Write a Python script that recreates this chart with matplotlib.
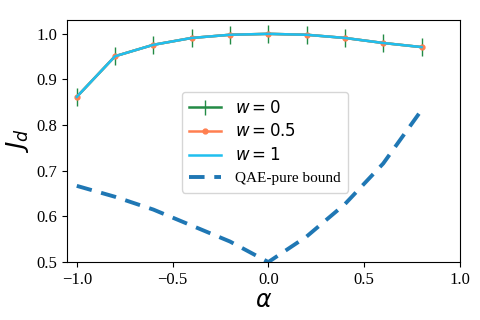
import matplotlib
matplotlib.use("Agg")
import matplotlib.pyplot as plt

plt.rcParams['font.family'] = ['Liberation Serif', 'DejaVu Serif']
plt.rcParams['mathtext.fontset'] = 'dejavusans'

alpha = [-1.0, -0.8, -0.6, -0.4, -0.2, 0.0, 0.2, 0.4, 0.6, 0.8]
jd_w0 = [0.862, 0.951, 0.976, 0.991, 0.998, 1.000, 0.998, 0.991, 0.980, 0.971]
jd_err = [0.020, 0.020, 0.020, 0.020, 0.020, 0.020, 0.020, 0.020, 0.020, 0.020]
jd_w05 = [0.862, 0.951, 0.976, 0.991, 0.998, 1.000, 0.998, 0.991, 0.980, 0.971]
jd_w1 = [0.862, 0.951, 0.976, 0.991, 0.998, 1.000, 0.998, 0.991, 0.980, 0.971]
bound = [0.667, 0.643, 0.615, 0.580, 0.545, 0.500, 0.556, 0.627, 0.716, 0.833]

fig = plt.figure(figsize=(4.8, 3.2), dpi=100)
ax = fig.add_axes([0.14, 0.181, 0.818, 0.756])

h0 = ax.errorbar(alpha, jd_w0, yerr=jd_err, color='#238b45', lw=1.8, elinewidth=1,
                 zorder=2, label=r'$w=0$')
h1, = ax.plot(alpha, jd_w05, color='#ff7f50', lw=1.8, marker='o', markersize=3.5,
              zorder=3, label=r'$w=0.5$')
h2, = ax.plot(alpha, jd_w1, color='#1fbfef', lw=1.8, zorder=4, label=r'$w=1$')
h3, = ax.plot(alpha, bound, color='#1f77b4', lw=2.8, ls='--', dashes=(4, 2.5),
              label='QAE-pure bound')

ax.set_xlim(-1.05, 1.0)
ax.set_ylim(0.5, 1.03)
ax.set_xticks([-1.0, -0.5, 0.0, 0.5, 1.0])
ax.set_yticks([0.5, 0.6, 0.7, 0.8, 0.9, 1.0])
ax.tick_params(labelsize=12)
ax.set_xlabel(r'$\alpha$', fontsize=17, labelpad=2)
ax.set_ylabel(r'$J_d$', fontsize=18, labelpad=4)

leg = ax.legend(handles=[h0, h1, h2, h3], loc='upper left',
                bbox_to_anchor=(0.272, 0.735), fontsize=11,
                handlelength=2.1, handletextpad=0.9, borderpad=0.5,
                labelspacing=0.45)
for t in leg.get_texts()[:3]:
    t.set_fontsize(12)

fig.savefig('out.png', dpi=100)
